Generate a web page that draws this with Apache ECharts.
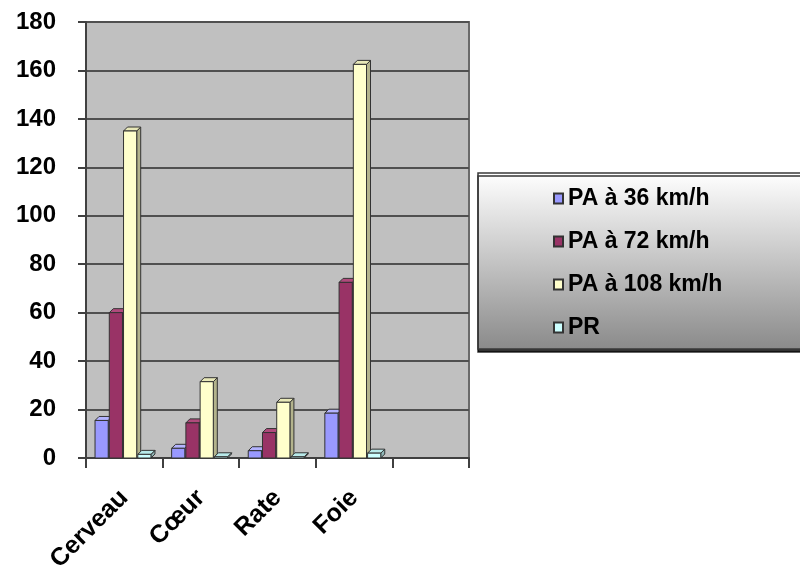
<!DOCTYPE html>
<html>
<head>
<meta charset="utf-8">
<script src="https://cdn.jsdelivr.net/npm/echarts@6/dist/echarts.min.js"></script>
<style>
  html, body { margin: 0; padding: 0; background: #fff; }
  #main { width: 800px; height: 574px; }
</style>
</head>
<body>
<div id="main"></div>
<script>
var categories = ['Cerveau', 'Cœur', 'Rate', 'Foie', ''];
var yTicks = [0, 20, 40, 60, 80, 100, 120, 140, 160, 180];

var pa36 = [15.5, 4, 3, 18.5, null];
var pa72 = [60, 14.5, 10.5, 72.5, null];
var pa108 = [135, 31.5, 23, 162.5, null];
var pr = [1.5, 0.5, 0.5, 2, null];

var seriesNames = ['PA à 36 km/h', 'PA à 72 km/h', 'PA à 108 km/h', 'PR'];
var seriesData = [pa36, pa72, pa108, pr];
// front, side, top
var palette = [
  ['#9999ff', '#6b6bc4', '#b3b3ff'],
  ['#993366', '#66223f', '#b04a7c'],
  ['#ffffcc', '#b3b38c', '#e8e8b8'],
  ['#ccffff', '#8fb8b8', '#b8eaea']
];

function makeRender(idx) {
  return function (params, api) {
    var cat = api.value(0), v = api.value(1);
    if (v == null || isNaN(v)) return;
    var base = api.coord([cat, 0]);
    var top = api.coord([cat, v]);
    var bandW = api.size([1, 0])[0];
    var w = bandW * 0.172;
    var x0 = base[0] - bandW / 2 + bandW * 0.118 + idx * bandW * 0.186;
    var d = 4;
    var c = palette[idx];
    var edge = '#333333';
    return {
      type: 'group',
      children: [
        {
          type: 'polygon',
          shape: { points: [[x0 + w, top[1]], [x0 + w + d, top[1] - d], [x0 + w + d, base[1] - d], [x0 + w, base[1]]] },
          style: { fill: c[1], stroke: edge, lineWidth: 1 }
        },
        {
          type: 'polygon',
          shape: { points: [[x0, top[1]], [x0 + d, top[1] - d], [x0 + w + d, top[1] - d], [x0 + w, top[1]]] },
          style: { fill: c[2], stroke: edge, lineWidth: 1 }
        },
        {
          type: 'rect',
          shape: { x: x0, y: top[1], width: w, height: base[1] - top[1] },
          style: { fill: c[0], stroke: edge, lineWidth: 1 }
        }
      ]
    };
  };
}

var series = seriesNames.map(function (name, i) {
  return {
    name: name,
    type: 'custom',
    renderItem: makeRender(i),
    encode: { x: 0, y: 1 },
    itemStyle: { color: palette[i][0], borderColor: '#333', borderWidth: 1 },
    data: seriesData[i].map(function (v, k) { return [k, v]; })
  };
});

var chart = echarts.init(document.getElementById('main'));
chart.setOption({
  animation: false,
  backgroundColor: '#ffffff',
  textStyle: { fontFamily: 'Liberation Sans, Arial, sans-serif' },
  grid: {
    left: 86, right: 331, top: 22, bottom: 116,
    outerBoundsMode: 'none',
    show: true, backgroundColor: '#c0c0c0', borderColor: '#6a6a6a', borderWidth: 2
  },
  graphic: [{
    type: 'rect',
    shape: { x: 478, y: 173, width: 330, height: 176 },
    style: {
      fill: new echarts.graphic.LinearGradient(0, 0, 0, 1, [
        { offset: 0, color: '#ffffff' },
        { offset: 1, color: '#8a8a8a' }
      ]),
      stroke: '#3a3a3a', lineWidth: 1.5,
      shadowColor: 'rgba(0,0,0,0.8)', shadowOffsetY: 3, shadowBlur: 0
    },
    z: -1
  }],
  legend: {
    orient: 'vertical',
    left: 548, top: 182,
    itemWidth: 9, itemHeight: 10,
    itemGap: 20,
    icon: 'rect',
    textStyle: { fontSize: 23, fontWeight: 'bold', color: '#000', padding: [0, 0, 0, 0] },
    data: seriesNames
  },
  xAxis: {
    type: 'category',
    data: categories,
    axisLine: { lineStyle: { color: '#404040', width: 2 } },
    axisTick: { show: true, length: 10, lineStyle: { color: '#404040', width: 2 } },
    axisLabel: { rotate: 45, margin: 36, fontSize: 25, fontWeight: 'bold', color: '#000', interval: 0 },
    splitLine: { show: false }
  },
  yAxis: {
    type: 'value',
    min: yTicks[0], max: yTicks[yTicks.length - 1], interval: 20,
    axisLine: { show: true, lineStyle: { color: '#404040', width: 2 } },
    axisTick: { show: true, length: 8, lineStyle: { color: '#404040', width: 2 } },
    axisLabel: { margin: 30, fontSize: 24, fontWeight: 'bold', color: '#000' },
    splitLine: { lineStyle: { color: '#505050', width: 2 } }
  },
  series: series
});
</script>
</body>
</html>
